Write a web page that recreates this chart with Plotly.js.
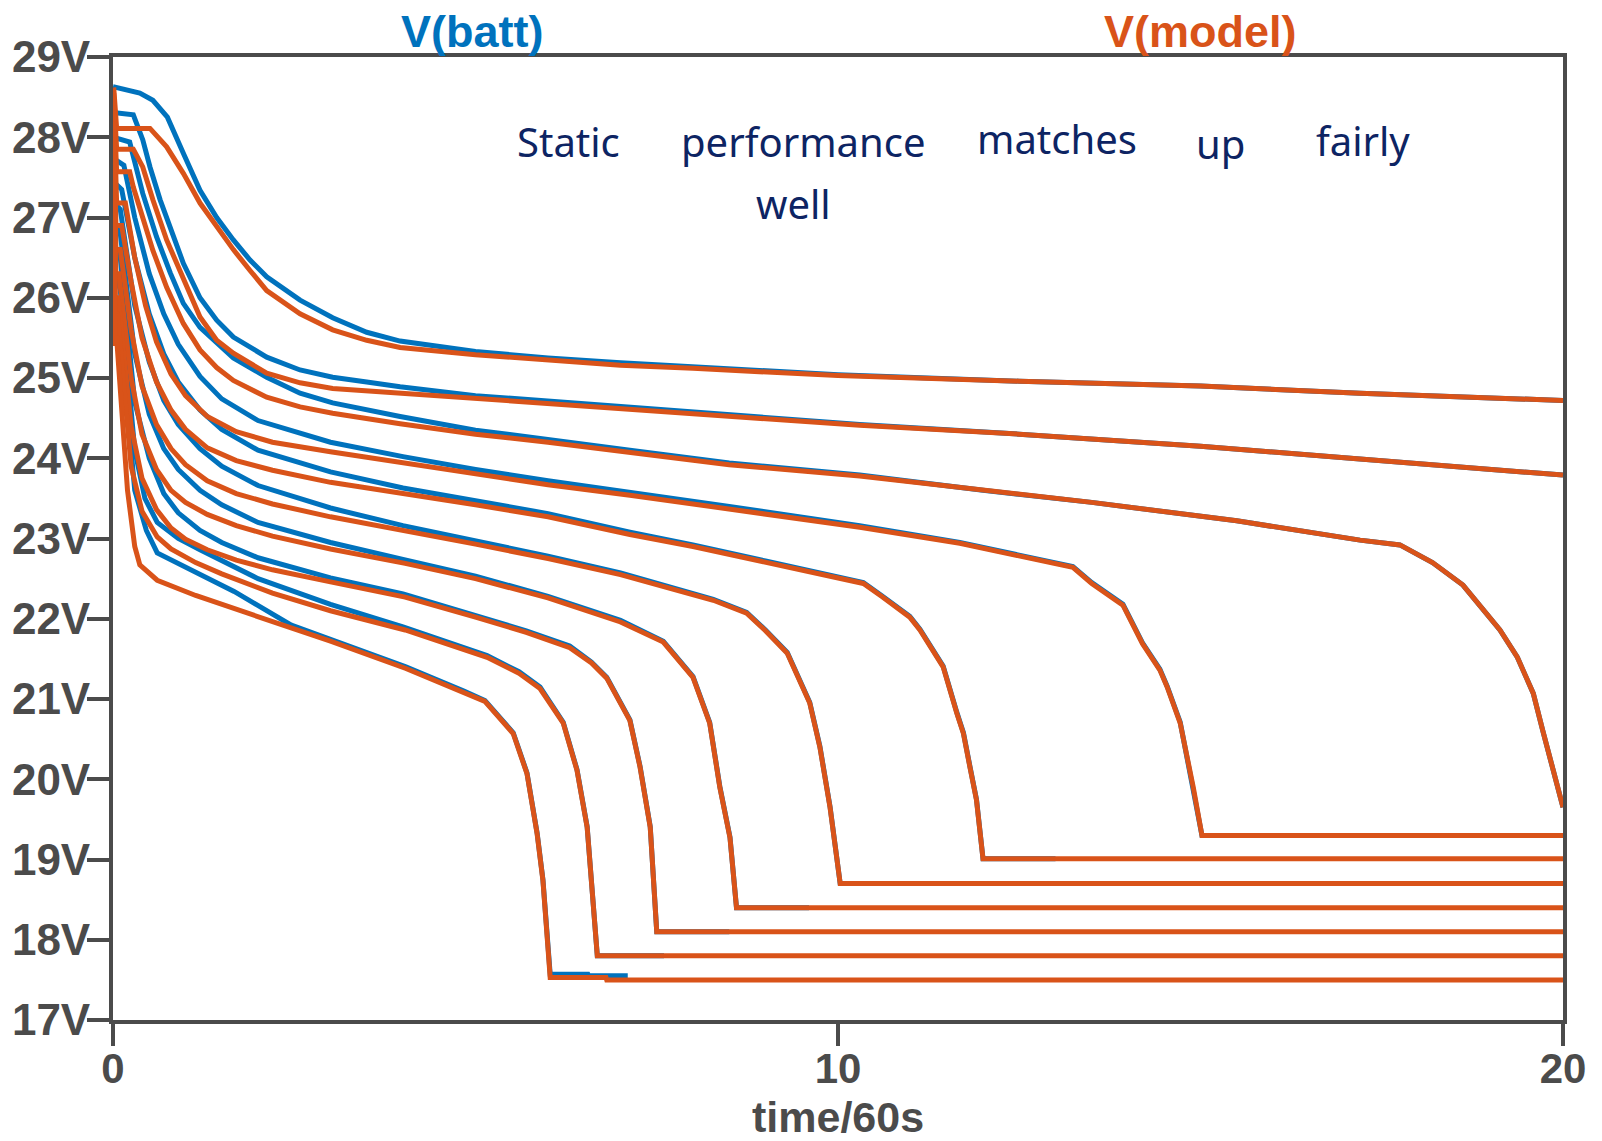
<!DOCTYPE html>
<html>
<head>
<meta charset="utf-8">
<script src="https://cdn.plot.ly/plotly-3.0.1.min.js"></script>
<style>html,body{margin:0;padding:0;background:#fff;}#chart{width:1602px;height:1141px;}</style>
</head>
<body>
<div id="chart"></div>
<script>
// ---- Data: time in minutes (time/60s), voltage in V ----
// V(model) traces (orange)
const m1t = [0, 0.01, 0.05, 0.51, 0.74, 0.97, 1.2, 1.43, 1.66, 1.89, 2.12, 2.58, 3.03, 3.5, 3.96, 5, 6, 7, 8, 10, 12.5, 15, 17.2, 20];
const m1v = [25.4, 28.62, 28.11, 28.11, 27.88, 27.55, 27.18, 26.88, 26.6, 26.34, 26.09, 25.8, 25.6, 25.47, 25.38, 25.29, 25.22, 25.16, 25.12, 25.03, 24.96, 24.9, 24.81, 24.72];
const m2t = [0, 0.01, 0.05, 0.28, 0.41, 0.55, 0.74, 0.97, 1.2, 1.43, 1.66, 2.12, 2.58, 3.03, 3.96, 5, 6, 7, 8, 10.3, 12.5, 15, 17.2, 20];
const m2v = [25.4, 28.55, 27.85, 27.85, 27.63, 27.22, 26.72, 26.22, 25.76, 25.47, 25.31, 25.06, 24.94, 24.87, 24.81, 24.74, 24.68, 24.62, 24.56, 24.41, 24.3, 24.15, 23.99, 23.79];
const m3t = [0, 0.01, 0.05, 0.23, 0.28, 0.41, 0.55, 0.74, 0.97, 1.2, 1.43, 1.66, 2.12, 2.58, 3.03, 3.96, 5, 6, 7.13, 8.5, 10.3, 12, 13.5, 15.5, 17.2, 17.75, 18.2, 18.62, 19.13, 19.37, 19.59, 19.72, 19.86, 20];
const m3v = [25.4, 28.5, 27.57, 27.57, 27.38, 27.0, 26.59, 26.13, 25.68, 25.35, 25.13, 24.97, 24.76, 24.64, 24.56, 24.43, 24.3, 24.2, 24.07, 23.92, 23.78, 23.6, 23.45, 23.22, 22.98, 22.92, 22.7, 22.42, 21.86, 21.52, 21.07, 20.61, 20.11, 19.65];
const m4t = [0, 0.01, 0.05, 0.17, 0.3, 0.45, 0.6, 0.8, 1.0, 1.3, 1.7, 2.2, 3.0, 4.03, 5, 6, 7.13, 8.5, 10.3, 11.68, 13.24, 13.5, 13.93, 14.2, 14.44, 14.54, 14.72, 14.9, 15.02, 20];
const m4v = [25.4, 28.45, 27.18, 27.18, 26.5, 25.9, 25.45, 25.05, 24.78, 24.52, 24.33, 24.2, 24.08, 23.94, 23.8, 23.67, 23.54, 23.37, 23.14, 22.94, 22.64, 22.44, 22.17, 21.69, 21.36, 21.15, 20.7, 19.9, 19.3, 19.3];
const m5t = [0, 0.01, 0.04, 0.12, 0.25, 0.4, 0.6, 0.8, 1.0, 1.3, 1.7, 2.2, 3.0, 4.03, 5, 6, 7.13, 8, 9, 10.35, 10.6, 10.99, 11.13, 11.45, 11.64, 11.73, 11.82, 11.91, 12.0, 20];
const m5v = [25.4, 28.4, 26.9, 26.9, 26.2, 25.5, 24.95, 24.6, 24.36, 24.13, 23.97, 23.85, 23.7, 23.56, 23.42, 23.27, 23.05, 22.9, 22.7, 22.44, 22.28, 22.02, 21.86, 21.4, 20.82, 20.57, 20.15, 19.74, 19.01, 19.01];
const m6t = [0, 0.01, 0.04, 0.1, 0.25, 0.4, 0.6, 0.8, 1.0, 1.3, 1.7, 2.2, 3.0, 4.03, 5, 6, 7, 8.28, 8.74, 9.0, 9.3, 9.61, 9.75, 9.89, 10.03, 20];
const m6v = [25.4, 28.35, 26.6, 26.6, 25.6, 24.9, 24.42, 24.12, 23.92, 23.72, 23.56, 23.43, 23.27, 23.1, 22.93, 22.75, 22.55, 22.23, 22.07, 21.85, 21.57, 20.95, 20.4, 19.65, 18.7, 18.7];
const m7t = [0, 0.01, 0.04, 0.08, 0.25, 0.4, 0.6, 0.8, 1.0, 1.3, 1.7, 2.2, 3.0, 4.03, 5, 6, 7, 7.59, 8.0, 8.23, 8.37, 8.51, 8.6, 20];
const m7v = [25.4, 28.3, 26.3, 26.3, 25.0, 24.3, 23.86, 23.6, 23.45, 23.3, 23.16, 23.03, 22.87, 22.69, 22.5, 22.26, 21.96, 21.71, 21.27, 20.7, 19.9, 19.27, 18.4, 18.4];
const m8t = [0, 0.01, 0.03, 0.07, 0.25, 0.4, 0.6, 0.8, 1.0, 1.3, 1.7, 2.2, 3.0, 4.03, 5, 5.7, 6.3, 6.6, 6.81, 7.13, 7.27, 7.41, 7.5, 20];
const m8v = [25.4, 28.2, 26.0, 26.0, 24.4, 23.75, 23.36, 23.13, 22.99, 22.86, 22.73, 22.61, 22.46, 22.27, 22.02, 21.83, 21.64, 21.45, 21.26, 20.73, 20.15, 19.4, 18.1, 18.1];
const m9t = [0, 0.01, 0.03, 0.06, 0.25, 0.4, 0.61, 0.8, 1.14, 1.5, 2.2, 3.0, 4.03, 5.16, 5.6, 5.89, 6.21, 6.4, 6.54, 6.68, 20];
const m9v = [25.4, 28.1, 25.8, 25.8, 23.9, 23.34, 23.02, 22.87, 22.7, 22.56, 22.32, 22.1, 21.86, 21.52, 21.32, 21.13, 20.7, 20.11, 19.4, 17.8, 17.8];
const m10t = [0, 0.01, 0.03, 0.05, 0.2, 0.3, 0.37, 0.61, 1.14, 1.93, 3.0, 4.04, 4.84, 5.13, 5.52, 5.71, 5.85, 5.93, 6.03, 6.8, 6.81, 20];
const m10v = [25.4, 28.0, 25.5, 25.5, 23.6, 22.9, 22.67, 22.48, 22.29, 22.05, 21.72, 21.38, 21.09, 20.97, 20.57, 20.07, 19.32, 18.74, 17.53, 17.53, 17.5, 17.5];

// V(batt) traces (blue)
const b1t = [0, 0.37, 0.55, 0.75, 0.97, 1.2, 1.43, 1.66, 1.89, 2.12, 2.58, 3.03, 3.5, 3.96, 5, 6, 7, 8, 10, 12.5, 15, 17.2, 20];
const b1v = [28.63, 28.55, 28.46, 28.25, 27.8, 27.34, 27.0, 26.72, 26.47, 26.26, 25.97, 25.75, 25.57, 25.46, 25.33, 25.25, 25.19, 25.14, 25.04, 24.96, 24.9, 24.81, 24.72];
const b2t = [0, 0.28, 0.41, 0.51, 0.65, 0.79, 0.97, 1.2, 1.43, 1.66, 2.12, 2.58, 3.03, 3.5, 3.96, 5, 6, 8, 10.3, 12.5, 15, 17.2, 20];
const b2v = [28.31, 28.28, 27.97, 27.63, 27.22, 26.88, 26.43, 26.0, 25.72, 25.51, 25.26, 25.1, 25.01, 24.95, 24.89, 24.78, 24.71, 24.58, 24.42, 24.3, 24.15, 23.99, 23.79];
const b3t = [0, 0.23, 0.41, 0.6, 0.79, 0.97, 1.2, 1.43, 1.66, 2.12, 2.58, 3.03, 3.96, 5, 6, 7.13, 8.5, 10.3, 12, 13.5, 15.5, 17.2, 17.75, 18.2, 18.62, 19.13, 19.37, 19.59, 19.72, 19.86, 20];
const b3v = [28.0, 27.94, 27.3, 26.76, 26.31, 25.93, 25.63, 25.43, 25.25, 25.01, 24.81, 24.69, 24.52, 24.35, 24.24, 24.1, 23.94, 23.79, 23.6, 23.45, 23.22, 22.98, 22.92, 22.7, 22.42, 21.86, 21.52, 21.07, 20.61, 20.11, 19.65];
const b4t = [0, 0.15, 0.3, 0.5, 0.7, 0.9, 1.2, 1.5, 2.0, 3.0, 4.0, 5, 6, 7.13, 8.5, 10.3, 11.68, 13.24, 13.5, 13.93, 14.2, 14.44, 14.54, 14.72, 14.9, 15.02, 16];
const b4v = [27.74, 27.65, 27.0, 26.3, 25.8, 25.42, 25.02, 24.74, 24.47, 24.2, 24.02, 23.86, 23.72, 23.58, 23.4, 23.16, 22.95, 22.65, 22.45, 22.18, 21.7, 21.37, 21.16, 20.71, 19.91, 19.3, 19.3];
const b5t = [0, 0.12, 0.3, 0.5, 0.7, 0.9, 1.2, 1.5, 2.0, 3.0, 4.0, 5, 6, 7.13, 8, 9, 10.35, 10.6, 10.99, 11.13, 11.45, 11.64, 11.73, 11.82, 11.91, 12.0, 13];
const b5v = [27.45, 27.35, 26.5, 25.8, 25.3, 24.95, 24.6, 24.36, 24.1, 23.83, 23.63, 23.47, 23.31, 23.08, 22.92, 22.72, 22.45, 22.29, 22.03, 21.87, 21.41, 20.83, 20.58, 20.16, 19.75, 19.01, 19.01];
const b6t = [0, 0.1, 0.3, 0.5, 0.7, 0.9, 1.2, 1.5, 2.0, 3.0, 4.0, 5, 6, 7, 8.28, 8.74, 9.0, 9.3, 9.61, 9.75, 9.89, 10.03, 11];
const b6v = [27.2, 27.1, 25.9, 25.2, 24.72, 24.42, 24.12, 23.9, 23.66, 23.38, 23.16, 22.97, 22.78, 22.57, 22.24, 22.08, 21.86, 21.58, 20.96, 20.41, 19.66, 18.7, 18.7];
const b7t = [0, 0.1, 0.3, 0.5, 0.7, 0.9, 1.2, 1.5, 2.0, 3.0, 4.0, 5, 6, 7, 7.59, 8.0, 8.23, 8.37, 8.51, 8.6, 9.6];
const b7v = [26.95, 26.8, 25.3, 24.55, 24.12, 23.86, 23.6, 23.42, 23.2, 22.95, 22.74, 22.53, 22.28, 21.98, 21.72, 21.28, 20.71, 19.91, 19.28, 18.4, 18.4];
const b8t = [0, 0.1, 0.3, 0.5, 0.7, 0.9, 1.2, 1.5, 2.0, 3.0, 4.0, 5, 5.7, 6.3, 6.6, 6.81, 7.13, 7.27, 7.41, 7.5, 8.5];
const b8v = [26.7, 26.5, 24.7, 24.0, 23.56, 23.32, 23.1, 22.95, 22.76, 22.51, 22.31, 22.04, 21.85, 21.66, 21.46, 21.27, 20.74, 20.16, 19.41, 18.1, 18.1];
const b9t = [0, 0.1, 0.3, 0.44, 0.61, 0.9, 1.2, 1.5, 2.0, 3.0, 4.0, 5.16, 5.6, 5.89, 6.21, 6.4, 6.54, 6.68, 7.6];
const b9v = [26.4, 26.1, 24.1, 23.5, 23.2, 23.0, 22.86, 22.72, 22.5, 22.18, 21.9, 21.54, 21.34, 21.15, 20.71, 20.12, 19.41, 17.8, 17.8];
const b10t = [0, 0.1, 0.3, 0.46, 0.61, 1.14, 1.67, 2.46, 3.0, 4.04, 4.84, 5.13, 5.52, 5.71, 5.85, 5.93, 6.03, 6.55, 6.56, 7.1];
const b10v = [26.0, 25.6, 23.6, 23.1, 22.82, 22.58, 22.34, 21.92, 21.74, 21.4, 21.1, 20.98, 20.58, 20.08, 19.33, 18.75, 17.57, 17.57, 17.55, 17.55];

const yTicks = [17, 18, 19, 20, 21, 22, 23, 24, 25, 26, 27, 28, 29];
const yTickText = ["17V", "18V", "19V", "20V", "21V", "22V", "23V", "24V", "25V", "26V", "27V", "28V", "29V"];
const xTicks = [0, 10, 20];
const xTickText = ["0", "10", "20"];
const traceNames = ["V(batt)", "V(model)"];
const noteWords = ["Static", "performance", "matches", "up", "fairly", "well"];

// ---- Build ----
const BLUE = "#0072BD", ORANGE = "#D95319", AXIS = "#4b4b4b", INK = "#0d2463";
const battSets = [[b1t,b1v],[b2t,b2v],[b3t,b3v],[b4t,b4v],[b5t,b5v],[b6t,b6v],[b7t,b7v],[b8t,b8v],[b9t,b9v],[b10t,b10v]];
const modelSets = [[m1t,m1v],[m2t,m2v],[m3t,m3v],[m4t,m4v],[m5t,m5v],[m6t,m6v],[m7t,m7v],[m8t,m8v],[m9t,m9v],[m10t,m10v]];
const traces = [];
battSets.forEach(([t,v]) => traces.push({x:t, y:v, type:"scatter", mode:"lines", name:traceNames[0], line:{color:BLUE, width:5}, showlegend:false, hoverinfo:"skip"}));
modelSets.forEach(([t,v]) => traces.push({x:t, y:v, type:"scatter", mode:"lines", name:traceNames[1], line:{color:ORANGE, width:5}, showlegend:false, hoverinfo:"skip"}));

// plot area in pixels: left 113, right 1563, top 57, bottom 1020
const L = 113, R = 1563, T = 57, B = 1020;
const px = x => (x - L) / (R - L);
const py = y => (B - y) / (B - T);

const xTickFont = {family:"Liberation Sans, Arial, sans-serif", size:42, color:AXIS, weight:"bold"};
const yTickFont = {family:"Liberation Sans, Arial, sans-serif", size:44, color:AXIS, weight:"bold"};
const noteFont = {family:"Noto Sans, sans-serif", size:40, color:INK};
const notePos = [[568,142],[803,142],[1057,138],[1220,143],[1363,140],[793,203]];
const annotations = [
  {text:traceNames[0], xref:"paper", yref:"paper", x:px(472), y:py(31), showarrow:false, xanchor:"center", yanchor:"middle", font:{family:"Liberation Sans, Arial, sans-serif", size:45, color:BLUE, weight:"bold"}},
  {text:traceNames[1], xref:"paper", yref:"paper", x:px(1200), y:py(31), showarrow:false, xanchor:"center", yanchor:"middle", font:{family:"Liberation Sans, Arial, sans-serif", size:45, color:ORANGE, weight:"bold"}},
  {text:"time/60s", xref:"paper", yref:"paper", x:px(838), y:py(1117), showarrow:false, xanchor:"center", yanchor:"middle", height:38, font:{family:"Liberation Sans, Arial, sans-serif", size:43, color:AXIS, weight:"bold"}}
];
noteWords.forEach((w,i) => annotations.push({text:w, xref:"paper", yref:"paper", x:px(notePos[i][0]), y:py(notePos[i][1]), showarrow:false, xanchor:"center", yanchor:"middle", font:noteFont}));

const layout = {
  width:1602, height:1141,
  margin:{l:L, r:1602-R, t:T, b:1141-B, pad:0},
  paper_bgcolor:"#ffffff", plot_bgcolor:"#ffffff",
  showlegend:false,
  xaxis:{range:[0,20], tickmode:"array", tickvals:xTicks, ticktext:xTickText, showgrid:false, zeroline:false, showline:true, linecolor:AXIS, linewidth:4, mirror:true,
         ticks:"outside", ticklen:22, tickwidth:4, tickcolor:AXIS, tickfont:xTickFont, automargin:false, ticklabelstandoff:-13},
  yaxis:{range:[17,29], tickmode:"array", tickvals:yTicks, ticktext:yTickText, showgrid:false, zeroline:false, showline:true, linecolor:AXIS, linewidth:4, mirror:true,
         ticks:"outside", ticklen:22, tickwidth:4, tickcolor:AXIS, tickfont:yTickFont, automargin:false, ticklabelstandoff:-12},
  annotations:annotations
};
Plotly.newPlot("chart", traces, layout, {staticPlot:true, displayModeBar:false});
</script>
</body>
</html>
